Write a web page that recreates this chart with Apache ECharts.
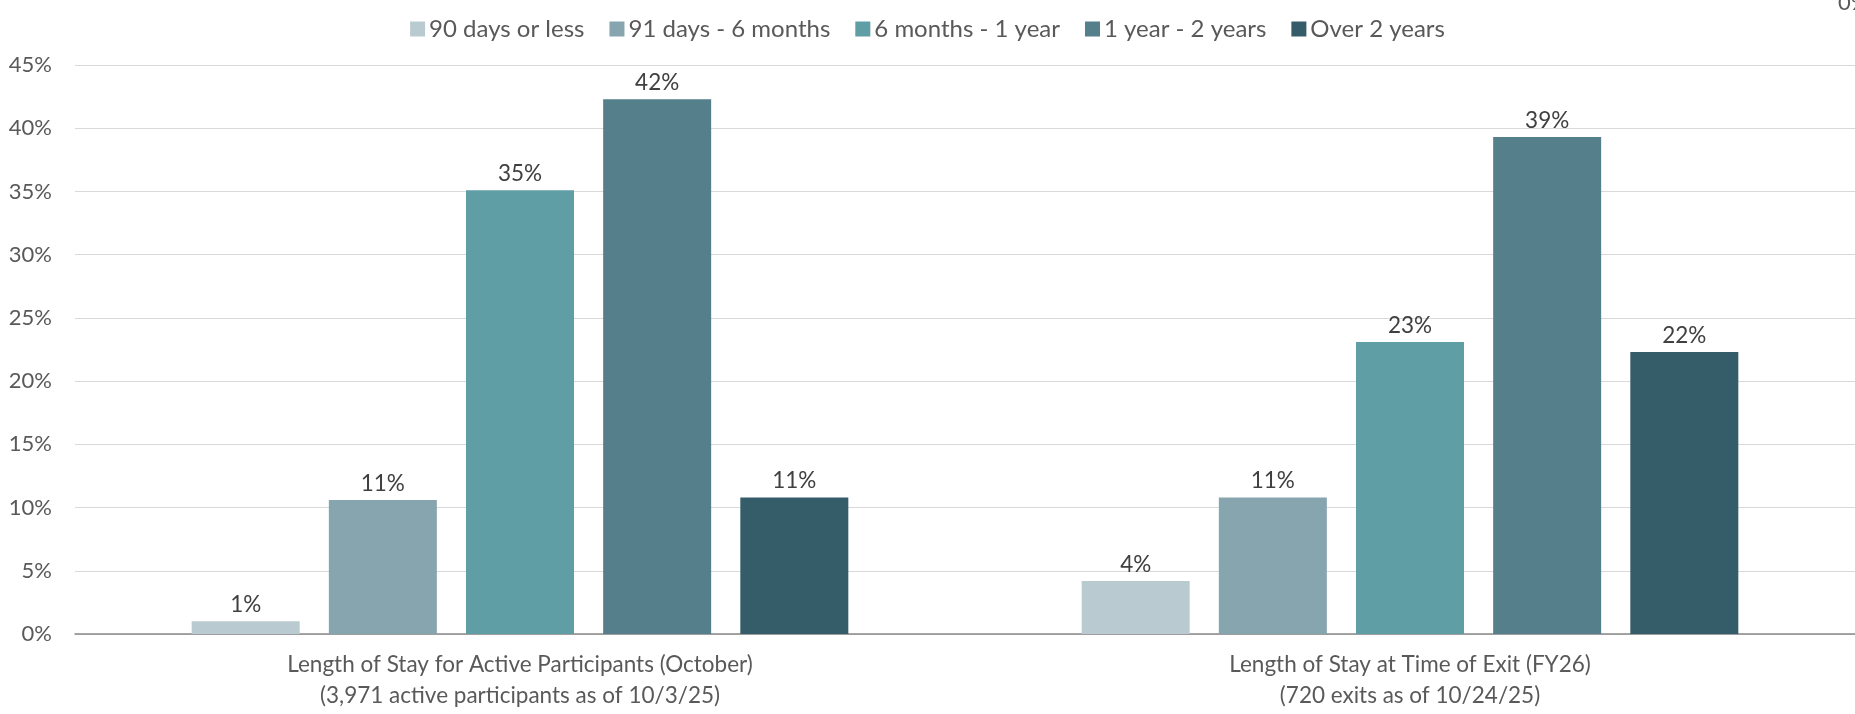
<!DOCTYPE html>
<html>
<head>
<meta charset="utf-8">
<script src="https://cdn.jsdelivr.net/npm/echarts@6/dist/echarts.min.js"></script>
<style>html,body{margin:0;padding:0;background:#fff}#c{width:1855px;height:714px}</style>
</head>
<body>
<div id="c"></div>
<script>
const categories = [
  'Length of Stay for Active Participants (October)\n(3,971 active participants as of 10/3/25)',
  'Length of Stay at Time of Exit (FY26)\n(720 exits as of 10/24/25)'
];
const seriesNames = ['90 days or less', '91 days - 6 months', '6 months - 1 year', '1 year - 2 years', 'Over 2 years'];
const days90OrLess = [1.0, 4.2];
const days91To6Months = [10.6, 10.8];
const months6To1Year = [35.1, 23.1];
const years1To2 = [42.3, 39.3];
const over2Years = [10.8, 22.3];
const yTicks = [0, 5, 10, 15, 20, 25, 30, 35, 40, 45];

const seriesValues = [days90OrLess, days91To6Months, months6To1Year, years1To2, over2Years];
const colors = ['#b9cbd1', '#87a5ae', '#5e9ea4', '#557f8b', '#355c69'];
const FONT = 'Lato, "Noto Sans", sans-serif';

const chart = echarts.init(document.getElementById('c'), null, {renderer: 'canvas'});
chart.setOption({
  animation: false,
  color: colors,
  textStyle: {fontFamily: FONT},
  legend: {
    data: seriesNames,
    top: 12,
    left: 'center',
    itemWidth: 15,
    itemHeight: 15,
    itemGap: 25,
    icon: 'rect',
    textStyle: {fontSize: 24, color: '#595959', fontFamily: FONT, padding: [0, 0, 0, -1]}
  },
  grid: {left: 75, right: 0, top: 65, bottom: 80, containLabel: false},
  xAxis: {
    type: 'category',
    data: categories,
    axisLine: {lineStyle: {color: '#898989', width: 1.5}},
    axisTick: {show: false},
    axisLabel: {fontSize: 22.5, color: '#595959', lineHeight: 31, margin: 15, fontFamily: FONT}
  },
  yAxis: {
    type: 'value',
    min: yTicks[0],
    max: yTicks[yTicks.length - 1],
    interval: 5,
    axisLine: {show: false},
    axisTick: {show: false},
    splitLine: {lineStyle: {color: '#d9d9d9', width: 1}},
    axisLabel: {fontSize: 22, color: '#595959', margin: 23, formatter: v => v + '%', fontFamily: FONT}
  },
  graphic: [{
    type: 'text', left: 1838, top: -8,
    style: {text: '0%', fontSize: 22, fill: '#595959', fontFamily: FONT}
  }],
  series: seriesNames.map((n, i) => ({
    name: n,
    type: 'bar',
    data: seriesValues[i],
    barWidth: 108,
    barGap: '27%',
    label: {
      show: true,
      position: 'top',
      distance: 5,
      fontSize: 22.5,
      color: '#404040',
      fontFamily: FONT,
      formatter: p => Math.round(p.value) + '%'
    }
  }))
});
</script>
</body>
</html>
